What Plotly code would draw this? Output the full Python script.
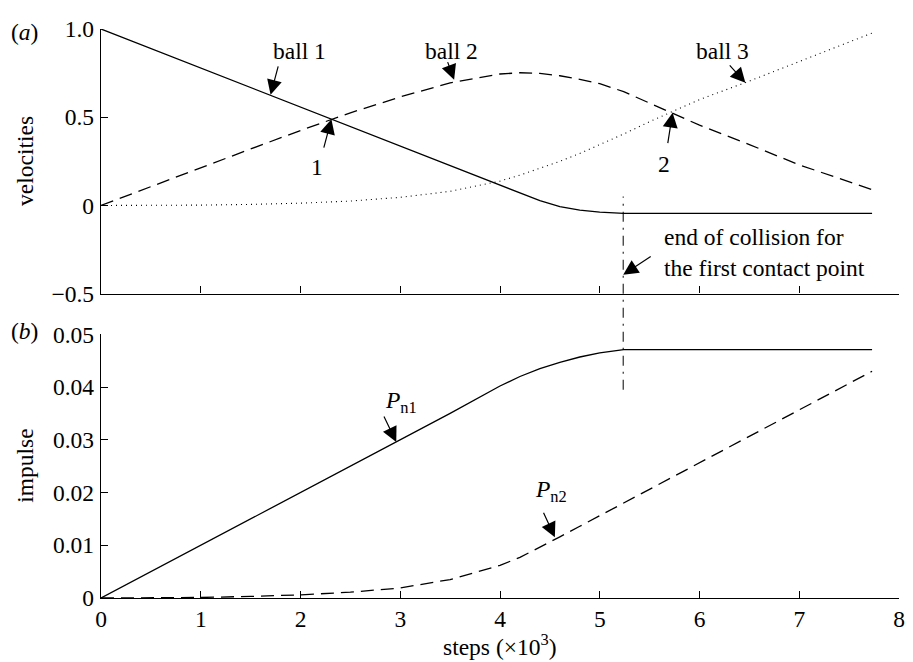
import plotly.graph_objects as go

# steps (x 10^3), shared by all curves
steps = [0, 0.5, 1, 1.5, 2, 2.5, 3, 3.5, 4, 4.2, 4.4, 4.6, 4.8, 5.0, 5.24, 5.5, 6, 6.5, 7, 7.73]

# (a) velocities
ball1 = [1.0, 0.889, 0.778, 0.667, 0.556, 0.445, 0.334, 0.223, 0.112, 0.068, 0.027, -0.006,
         -0.026, -0.038, -0.045, -0.045, -0.045, -0.045, -0.045, -0.045]
ball2 = [0, 0.108, 0.215, 0.32, 0.425, 0.525, 0.615, 0.695, 0.745, 0.752, 0.748, 0.735,
         0.715, 0.69, 0.645, 0.58, 0.455, 0.345, 0.23, 0.09]
ball3 = [0, 0.0005, 0.002, 0.006, 0.013, 0.025, 0.046, 0.08, 0.138, 0.172, 0.21, 0.25,
         0.295, 0.345, 0.405, 0.475, 0.60, 0.705, 0.815, 0.977]

# (b) impulses
pn1 = [0, 0.005, 0.01, 0.015, 0.02, 0.025, 0.03, 0.035, 0.0402, 0.042, 0.0435, 0.0447,
       0.0457, 0.0465, 0.0471, 0.0471, 0.0471, 0.0471, 0.0471, 0.0471]
pn2 = [0, 0, 0.0001, 0.0003, 0.0006, 0.0011, 0.0019, 0.0035, 0.0062, 0.0077, 0.0096, 0.0116,
       0.0136, 0.0156, 0.018, 0.0206, 0.0256, 0.0306, 0.0356, 0.043]

end_contact = 5.235

FONT = "Liberation Serif, Times New Roman, Times, serif"
fig = go.Figure()

fig.add_trace(go.Scatter(x=steps, y=ball1, mode="lines", line=dict(color="black", width=1.3),
                         xaxis="x", yaxis="y"))
fig.add_trace(go.Scatter(x=steps, y=ball2, mode="lines",
                         line=dict(color="black", width=1.3, dash="13px,7px"), xaxis="x", yaxis="y"))
fig.add_trace(go.Scatter(x=steps, y=ball3, mode="lines",
                         line=dict(color="black", width=1.1, dash="1px,4px"), xaxis="x", yaxis="y"))
fig.add_trace(go.Scatter(x=steps, y=pn1, mode="lines", line=dict(color="black", width=1.3),
                         xaxis="x2", yaxis="y2"))
fig.add_trace(go.Scatter(x=steps, y=pn2, mode="lines",
                         line=dict(color="black", width=1.3, dash="13px,7px"), xaxis="x2", yaxis="y2"))

ax_common = dict(showgrid=False, zeroline=False, showline=True, linecolor="black", linewidth=1.4,
                 ticks="inside", ticklen=7, tickwidth=1.2, tickcolor="black")

# the page adds an 8px body margin, so the figure is sized and offset to compensate
fig.update_layout(
    width=905, height=654,
    margin=dict(l=93, r=8, t=16, b=64),
    paper_bgcolor="white", plot_bgcolor="white",
    showlegend=False,
    font=dict(family=FONT, size=23.5, color="black"),
    xaxis=dict(domain=[0, 1], anchor="y", range=[0, 8], tickvals=list(range(9)),
               showticklabels=False, **ax_common),
    yaxis=dict(domain=[0.5348, 1], anchor="x", range=[-0.5, 1.0],
               tickvals=[-0.5, 0, 0.5, 1.0], ticktext=["\u22120.5", "0", "0.5", "1.0"],
               ticklabelstandoff=1, **ax_common),
    xaxis2=dict(domain=[0, 1], anchor="y2", range=[0, 8], tickvals=list(range(9)),
                matches="x", ticklabelstandoff=0, **ax_common),
    yaxis2=dict(domain=[0, 0.4634], anchor="x2", range=[0, 0.05],
                tickvals=[0, 0.01, 0.02, 0.03, 0.04, 0.05],
                ticktext=["0", "0.01", "0.02", "0.03", "0.04", "0.05"],
                ticklabelstandoff=1, **ax_common),
)

# end of collision marker spanning both panels
fig.add_shape(type="line", xref="x", yref="paper", x0=end_contact, x1=end_contact,
              y0=0.366, y1=0.7056, line=dict(color="black", width=1, dash="10px,6px,2px,6px"))

ann = []
# text labels
for txt, x, y, xr, yr, xa in [
    ("ball 1", 1.99, 0.876, "x", "y", "center"),
    ("ball 2", 3.51, 0.876, "x", "y", "center"),
    ("ball 3", 6.23, 0.876, "x", "y", "center"),
    ("1", 2.17, 0.219, "x", "y", "center"),
    ("2", 5.645, 0.236, "x", "y", "center"),
    ("end of collision for<br>the first contact point", 5.62, -0.264, "x", "y", "left"),
    ("<i>P</i><sub>n1</sub>", 2.826, 0.0371, "x2", "y2", "left"),
    ("<i>P</i><sub>n2</sub>", 4.33, 0.0203, "x2", "y2", "left"),
]:
    ann.append(dict(text=txt, x=x, y=y, xref=xr, yref=yr, xanchor=xa, yanchor="middle",
                    showarrow=False, align="left"))

# arrows: tip in data units, tail offset in pixels
for x, y, dx, dy, xr, yr in [
    (1.70, 0.627, 8, -30, "x", "y"),
    (3.54, 0.713, -7, -19, "x", "y"),
    (6.46, 0.695, -17, -19, "x", "y"),
    (2.31, 0.489, -8, 30, "x", "y"),
    (5.73, 0.526, -5, 32, "x", "y"),
    (end_contact, -0.392, 29, -19, "x", "y"),
    (2.96, 0.0296, -13, -27, "x2", "y2"),
    (4.55, 0.0115, -12, -26, "x2", "y2"),
]:
    ann.append(dict(text="", x=x, y=y, xref=xr, yref=yr, ax=dx, ay=dy, showarrow=True,
                    arrowhead=2, arrowsize=2.5, arrowwidth=1.2, arrowcolor="black", standoff=0))

# axis titles and panel labels
ann += [
    dict(text="velocities", xref="paper", yref="paper", x=-0.0945, y=0.7674, textangle=-90,
         showarrow=False, xanchor="center", yanchor="middle"),
    dict(text="impulse", xref="paper", yref="paper", x=-0.0945, y=0.2317, textangle=-90,
         showarrow=False, xanchor="center", yanchor="middle"),
    dict(text="steps (\u00d710<sup>3</sup>)", xref="paper", yref="paper", x=0.5, y=-0.0819,
         showarrow=False, xanchor="center", yanchor="middle"),
    dict(text="(<i>a</i>)", xref="paper", yref="paper", x=-0.0958, y=0.9948,
         showarrow=False, xanchor="center", yanchor="middle"),
    dict(text="(<i>b</i>)", xref="paper", yref="paper", x=-0.0958, y=0.4686,
         showarrow=False, xanchor="center", yanchor="middle"),
]
fig.update_layout(annotations=ann)

fig.write_html("out.html")
